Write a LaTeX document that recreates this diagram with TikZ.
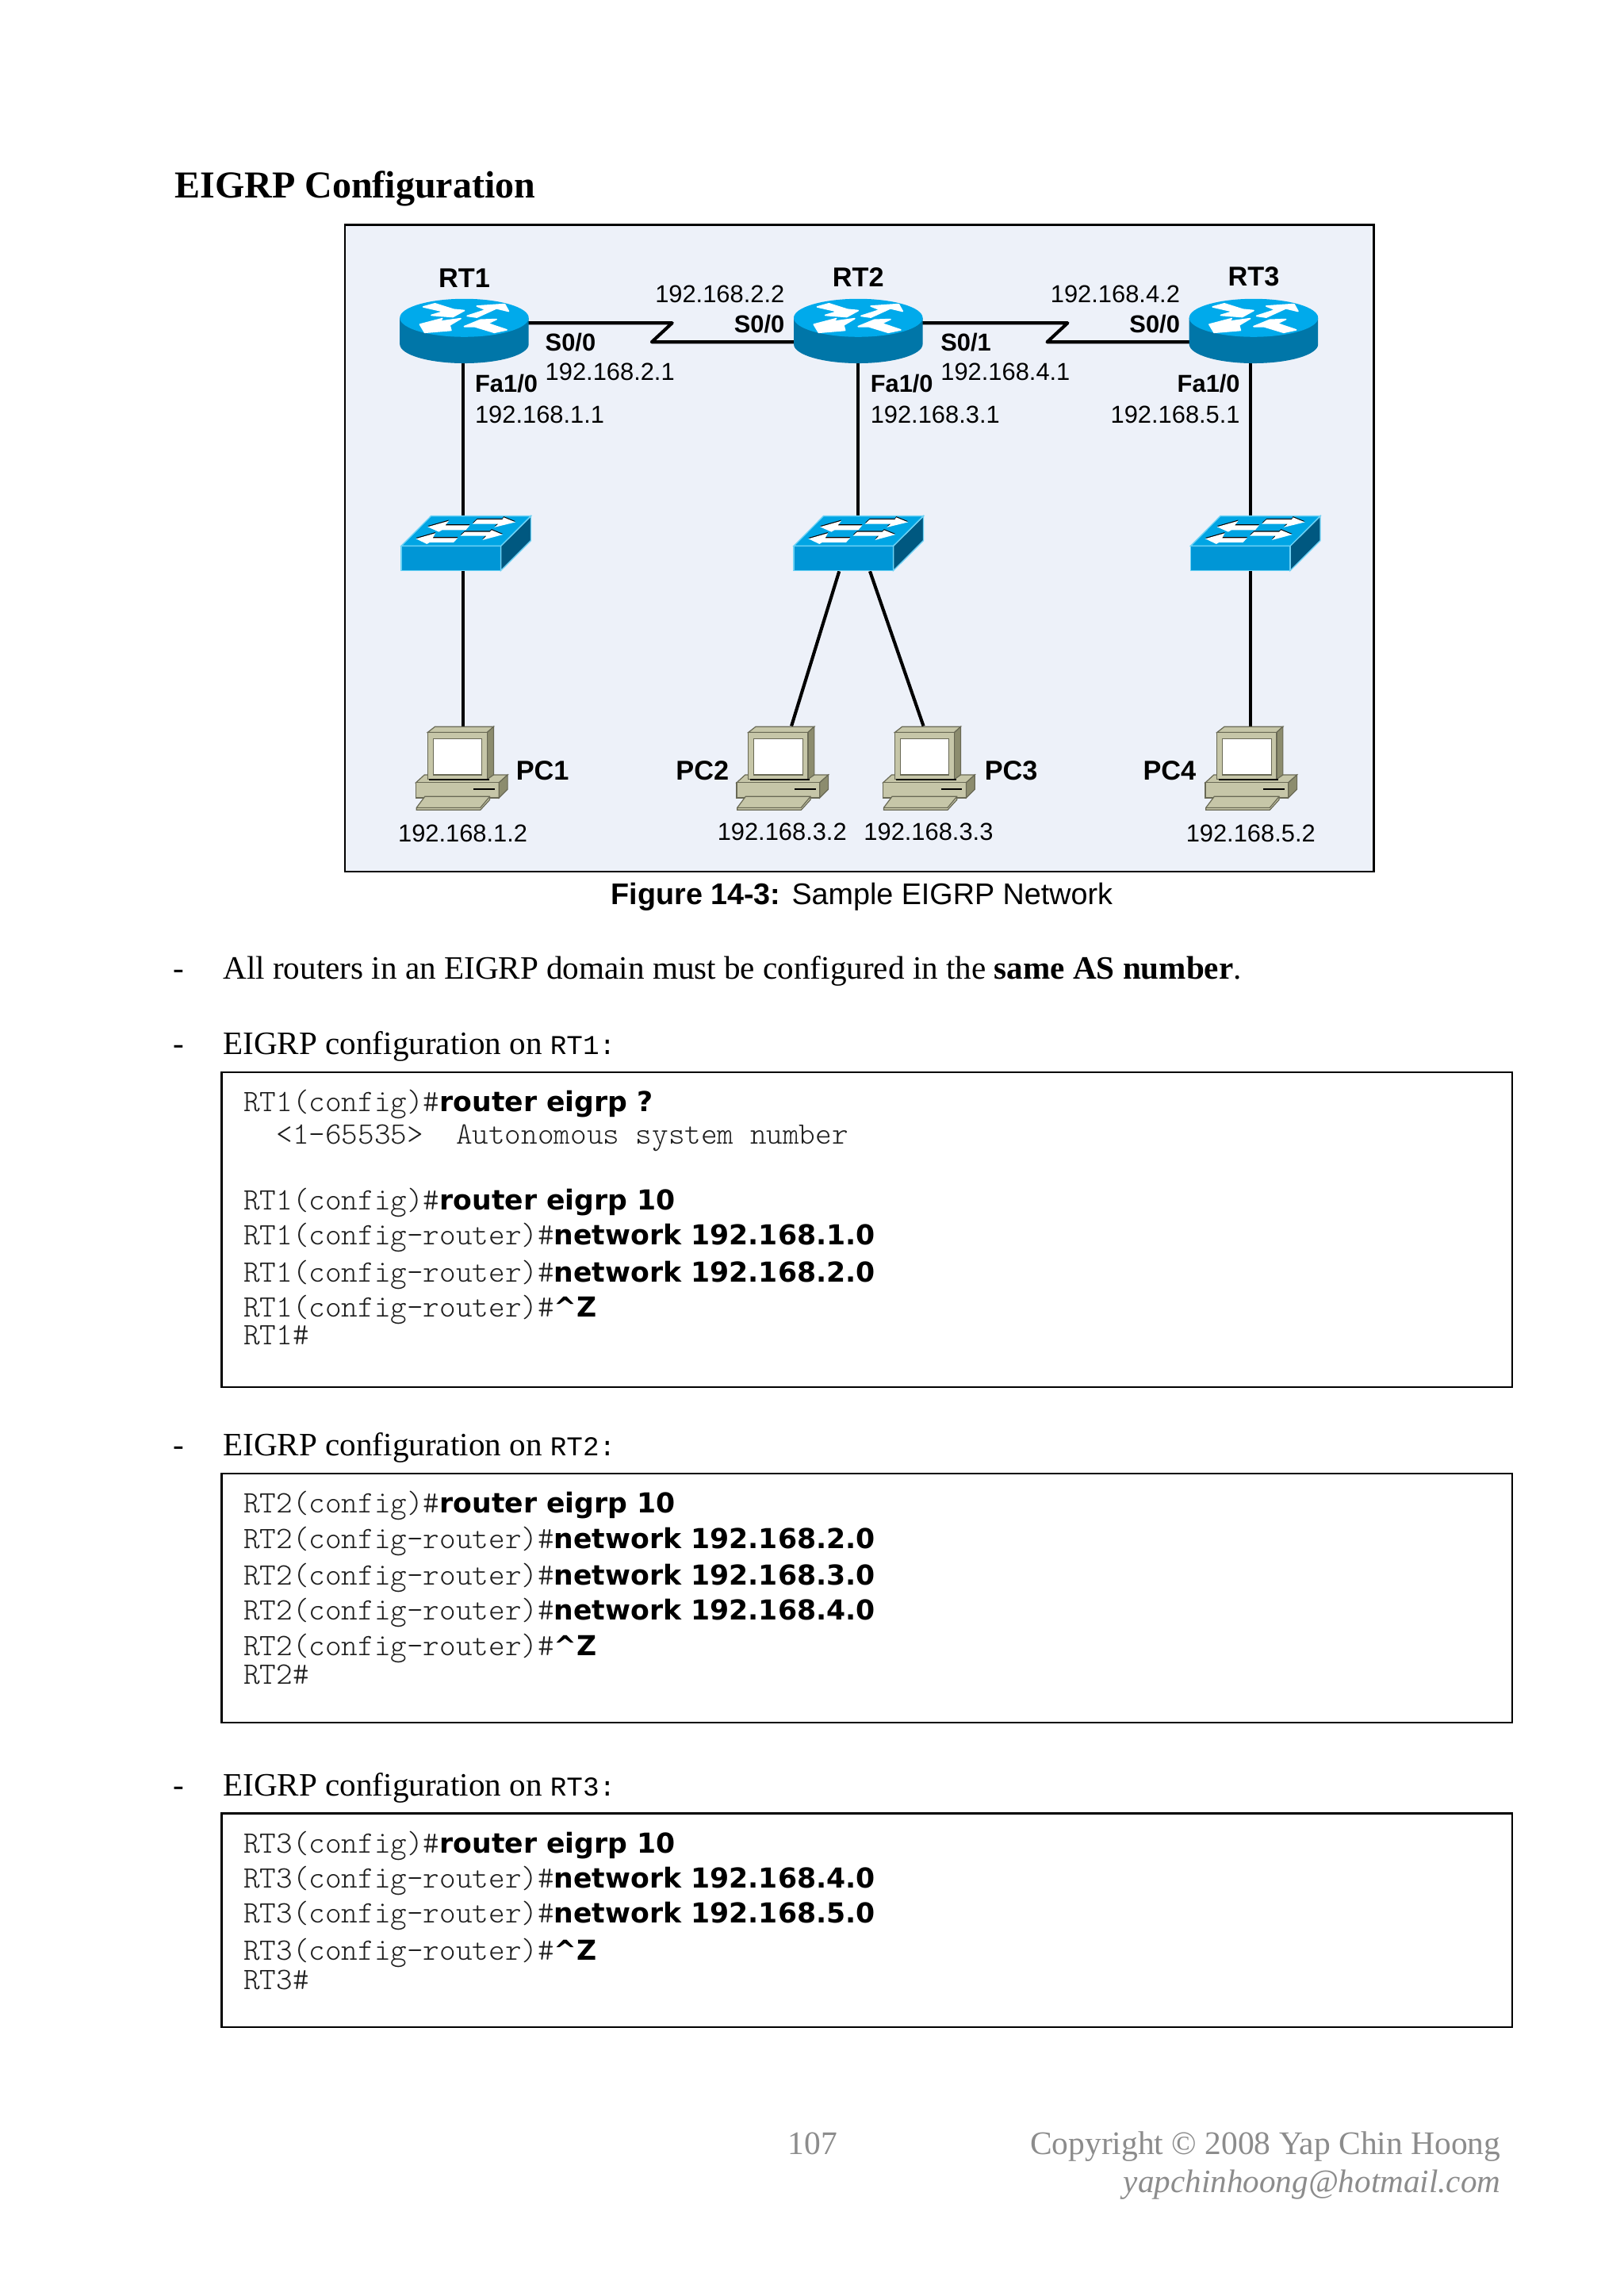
\documentclass[tikz,border=0pt]{standalone}
\usepackage{fontspec}
\setmainfont{Liberation Serif}
\setsansfont{Liberation Sans}
\setmonofont{Latin Modern Mono Light}
\newfontfamily\cmdbold{DejaVu Sans}[BoldFont={DejaVu Sans Bold}]
\newfontfamily\inlinemono{Liberation Mono}
\definecolor{panel}{RGB}{237,241,249}
\definecolor{rtop}{RGB}{0,170,235}
\definecolor{rside}{RGB}{0,118,168}
\definecolor{swtop}{RGB}{0,165,228}
\definecolor{swfront}{RGB}{0,150,214}
\definecolor{swside}{RGB}{0,88,128}
\definecolor{swedge}{RGB}{110,210,245}
\definecolor{pcface}{RGB}{198,198,168}
\definecolor{pcside}{RGB}{140,140,110}
\definecolor{pcline}{RGB}{105,105,85}
\definecolor{footgray}{RGB}{140,140,140}
\definecolor{monogray}{RGB}{30,30,30}
\tikzset{
  lab/.style={font=\sffamily\fontsize{9}{11}\selectfont,inner sep=0pt},
  blab/.style={font=\sffamily\bfseries\fontsize{9}{11}\selectfont,inner sep=0pt},
  nam/.style={font=\sffamily\bfseries\fontsize{10}{12}\selectfont,inner sep=0pt},
  body/.style={font=\rmfamily\fontsize{12}{14}\selectfont,inner sep=0pt,anchor=base west},
  cbox/.style={draw=black,line width=0.8pt},
  cfg/.style={font=\ttfamily\fontsize{11.45}{13}\selectfont,text=monogray,inner sep=0pt,anchor=base west},
  link/.style={line width=1.2pt,black},
  dev/.style={minimum width=1pt,minimum height=1pt,inner sep=0pt},
  foot/.style={font=\rmfamily\fontsize{12.1}{14}\selectfont,text=footgray,inner sep=0pt},
  arr/.style={fill=white,draw=none},
  rarr/.style={fill=white,draw=white,line width=0.5pt,line join=round},
  arrs/.style={fill=black,draw=none,yshift=0.35pt},
}
\newcommand{\bcmd}[1]{{\cmdbold\bfseries\fontsize{10.1}{12}\selectfont\color{black}#1}}
\newcommand{\rtname}[1]{{\inlinemono\fontsize{10}{12}\selectfont #1}}
% router icon, centre of the top disc at the origin
\newcommand{\routerpic}[1]{%
  \begin{scope}[shift={(#1)}]
    \fill[rside] (-44,0) -- (-44,18) arc[start angle=180,end angle=0,x radius=44,y radius=13] -- (44,0) -- cycle;
    \fill[rtop] (0,0) ellipse[x radius=44,y radius=13];
    \path[rarr] (-28,-7.5) -- (-20,-9.7) -- (-7.3,-5.7) -- (0,-5) -- (-7.8,-0.7) -- (-22.5,-1.8) -- (-14,-4.3) -- cycle;
    \path[rarr] (8.6,-8) -- (27.6,-9.3) -- (30.3,-4.5) -- (22,-6.5) -- (8.6,-0.4) -- (2,-1.3) -- (15,-5.5) -- cycle;
    \path[rarr] (-30.3,4.5) -- (-15,0.5) -- (-17,2.5) -- (-2.4,0.5) -- (-10,5) -- (-9,8.5) -- (-27,10) -- cycle;
    \path[rarr] (0,5.9) -- (11,1.4) -- (22,1) -- (16,3.8) -- (29,8.2) -- (20.5,10) -- (7.3,6) -- cycle;
  \end{scope}}
% switch icon
\newcommand{\swarrows}[1]{%
    \fill[#1] (-26,-10.3) -- (-11.5,-14.4) -- (-13.9,-11.4) -- (2.8,-11.4) -- (0,-8.1) -- (-16.2,-8.1) -- (-18.4,-6.9) -- cycle;
    \fill[#1] (34,-13.5) -- (25.9,-16.8) -- (25,-15.3) -- (7.8,-15.3) -- (4.6,-12.3) -- (22.2,-12.3) -- (19.5,-10) -- cycle;
    \fill[#1] (-34,-2.2) -- (-20.7,-6) -- (-22.5,-2.7) -- (-5.4,-2.7) -- (-8.4,0.35) -- (-24.7,0.35) -- (-26.5,1.4) -- cycle;
    \fill[#1] (25.3,-5) -- (17.7,-8.1) -- (16.5,-6.9) -- (-0.7,-6.9) -- (-3.6,-4.2) -- (14.1,-4.2) -- (11.4,-1.3) -- cycle;}
\newcommand{\switchpic}[1]{%
  \begin{scope}[shift={(#1)}]
    \fill[swfront,draw=swedge,line width=0.4pt] (-44,2.7) -- (24,2.7) -- (24,19.5) -- (-44,19.5) -- cycle;
    \fill[swside,draw=swedge,line width=0.4pt] (24,2.7) -- (44.5,-17.7) -- (44.5,-0.9) -- (24,19.5) -- cycle;
    \fill[swtop,draw=swedge,line width=0.4pt] (-44,2.7) -- (-23.7,-17.7) -- (44.5,-17.7) -- (24,2.7) -- cycle;
    \swarrows{arrs}
    \swarrows{arr}
  \end{scope}}
% pc icon, origin at the top left corner of the monitor front
\newcommand{\pcpic}[1]{%
  \begin{scope}[shift={(#1)},line width=0.35pt]
    \fill[pcface,draw=pcline] (-2.2,29) -- (54.6,29) -- (48.7,34.3) -- (-8,34.3) -- cycle;
    \fill[pcface,draw=pcline] (-8,34.3) -- (48.7,34.3) -- (48.7,44.7) -- (-8,44.7) -- cycle;
    \fill[pcside,draw=pcline] (48.7,34.3) -- (54.6,29) -- (54.6,38.8) -- (48.7,44.7) -- cycle;
    \fill[pcface,draw=pcline] (0,0) -- (5,-3.9) -- (45,-3.9) -- (40.7,0) -- cycle;
    \fill[pcside,draw=pcline] (40.7,0) -- (45,-3.9) -- (45,29) -- (40.7,32) -- cycle;
    \fill[pcface,draw=pcline] (0,0) -- (40.7,0) -- (40.7,32) -- (0,32) -- cycle;
    \fill[white,draw=pcline] (3.7,4.5) -- (37,4.5) -- (37,29) -- (3.7,29) -- cycle;
    \draw[black,line width=0.8pt] (1,32.3) -- (42,32.3);
    \draw[black,line width=0.45pt] (31.5,38.8) -- (46,38.8);
    \fill[pcface,draw=pcline] (-1.9,43.8) -- (42.4,43.8) -- (42.4,46) -- (36,53) -- (-7.6,53) -- (-7.6,51.4) -- cycle;
    \draw[pcline] (-7.6,51.4) -- (36,51.4) -- (42.4,43.8);
  \end{scope}}
\begin{document}
\begin{tikzpicture}[x=0.5387pt,y=-0.5387pt]
\useasboundingbox (0,0) rectangle (1108.8,1567.5);
\fill[white] (0,0) rectangle (1108.8,1567.5);

\node[inner sep=0pt,anchor=base west,font=\rmfamily\bfseries\fontsize{14}{16}\selectfont] (title) at (119,135) {EIGRP Configuration};

% diagram panel
\draw[fill=panel,draw=black,line width=0.8pt] (235.5,153.5) rectangle (938,595);

% device anchors
\node[dev] (r1) at (316,226) {};
\node[dev] (r2) at (586,226) {};
\node[dev] (r3) at (854,226) {};
\node[dev] (s1) at (316,371) {};
\node[dev] (s2) at (586,371) {};
\node[dev] (s3) at (854,371) {};
\node[dev] (p1) at (316,497) {};
\node[dev] (p2) at (540,497) {};
\node[dev] (p3) at (631,497) {};
\node[dev] (p4) at (854,497) {};
\coordinate (z1a) at (459,220.5);
\coordinate (z1b) at (445,233.5);
\coordinate (z2a) at (729,220.5);
\coordinate (z2b) at (715,233.5);
\coordinate (s2a) at (573,390);
\coordinate (s2b) at (594,390);

% connectors
\draw[link] (r1) -- (s1) -- (p1);
\draw[link] (r2) -- (s2);
\draw[link] (r3) -- (s3) -- (p4);
\draw[link] (s2a) -- (p2);
\draw[link] (s2b) -- (p3);
\draw[link,line join=round] (r1 |- z1a) -- (z1a) -- (z1b) -- (z1b -| r2);
\draw[link,line join=round] (r2 |- z2a) -- (z2a) -- (z2b) -- (z2b -| r3);

% icons
\routerpic{317,217}
\routerpic{586,217}
\routerpic{856,217}
\switchpic{318,370}
\switchpic{586,370}
\switchpic{857,370}
\pcpic{292,500}
\pcpic{511,500}
\pcpic{611,500}
\pcpic{831,500}

% names
\node[nam] (t1) at (317,190) {RT1};
\node[nam] (t2) at (586,189) {RT2};
\node[nam] (t3) at (856,189) {RT3};
\node[nam,anchor=west] (t4) at (352,526) {PC1};
\node[nam,anchor=east] (t5) at (498,526) {PC2};
\node[nam,anchor=west] (t6) at (672,526) {PC3};
\node[nam,anchor=east] (t7) at (817,526) {PC4};

% interface labels
\node[blab,anchor=west] (a1) at (372,233.5) {S0/0};
\node[lab,anchor=west] (a2) at (372,254) {192.168.2.1};
\node[lab,anchor=east] (a3) at (536,201) {192.168.2.2};
\node[blab,anchor=east] (a4) at (536,221) {S0/0};
\node[blab,anchor=west] (a5) at (324,262) {Fa1/0};
\node[lab,anchor=west] (a6) at (324,283) {192.168.1.1};
\node[blab,anchor=west] (a7) at (642,233.5) {S0/1};
\node[lab,anchor=west] (a8) at (642,254) {192.168.4.1};
\node[blab,anchor=west] (a9) at (594,262) {Fa1/0};
\node[lab,anchor=west] (a10) at (594,283) {192.168.3.1};
\node[lab,anchor=east] (a11) at (806,201) {192.168.4.2};
\node[blab,anchor=east] (a12) at (806,221) {S0/0};
\node[blab,anchor=east] (a13) at (847,262) {Fa1/0};
\node[lab,anchor=east] (a14) at (847,283) {192.168.5.1};
\node[lab] (a15) at (316,569) {192.168.1.2};
\node[lab] (a16) at (534,568) {192.168.3.2};
\node[lab] (a17) at (634,568) {192.168.3.3};
\node[lab] (a18) at (854,569) {192.168.5.2};

\node[inner sep=0pt,font=\sffamily\fontsize{11}{13}\selectfont] (cap) at (588.5,612.5) {\textbf{Figure 14-3:} Sample EIGRP Network};

% body text
\node[body] (d1) at (118,668.5) {-};
\node[body] (b1) at (152,668.5) {All routers in an EIGRP domain must be configured in the \textbf{same AS number}.};
\node[body] (d2) at (118,720) {-};
\node[body] (b2) at (152,720) {EIGRP configuration on \rtname{RT1:}};
\node[body] (d3) at (118,994) {-};
\node[body] (b3) at (152,994) {EIGRP configuration on \rtname{RT2:}};
\node[body] (d4) at (118,1226) {-};
\node[body] (b4) at (152,1226) {EIGRP configuration on \rtname{RT3:}};

% config boxes
\draw[cbox] (151.5,732) rectangle (1032.5,947);
\draw[cbox] (151.5,1006) rectangle (1032.5,1176);
\draw[cbox] (151.5,1238) rectangle (1032.5,1384);

\node[cfg] (c11) at (166,759) {RT1(config)\#\bcmd{router eigrp ?}};
\node[cfg] (c12) at (166,781) {\ \ <1-65535>\ \ Autonomous system number};
\node[cfg] (c13) at (166,826) {RT1(config)\#\bcmd{router eigrp 10}};
\node[cfg] (c14) at (166,850) {RT1(config-router)\#\bcmd{network 192.168.1.0}};
\node[cfg] (c15) at (166,875) {RT1(config-router)\#\bcmd{network 192.168.2.0}};
\node[cfg] (c16) at (166,899) {RT1(config-router)\#\bcmd{\textasciicircum Z}};
\node[cfg] (c17) at (166,918) {RT1\#};

\node[cfg] (c21) at (166,1033) {RT2(config)\#\bcmd{router eigrp 10}};
\node[cfg] (c22) at (166,1057) {RT2(config-router)\#\bcmd{network 192.168.2.0}};
\node[cfg] (c23) at (166,1082) {RT2(config-router)\#\bcmd{network 192.168.3.0}};
\node[cfg] (c24) at (166,1106) {RT2(config-router)\#\bcmd{network 192.168.4.0}};
\node[cfg] (c25) at (166,1130) {RT2(config-router)\#\bcmd{\textasciicircum Z}};
\node[cfg] (c26) at (166,1150) {RT2\#};

\node[cfg] (c31) at (166,1265) {RT3(config)\#\bcmd{router eigrp 10}};
\node[cfg] (c32) at (166,1289) {RT3(config-router)\#\bcmd{network 192.168.4.0}};
\node[cfg] (c33) at (166,1313) {RT3(config-router)\#\bcmd{network 192.168.5.0}};
\node[cfg] (c34) at (166,1338) {RT3(config-router)\#\bcmd{\textasciicircum Z}};
\node[cfg] (c35) at (166,1358) {RT3\#};

% footer
\node[foot,anchor=base] (f1) at (555,1471) {107};
\node[foot,anchor=base east] (f2) at (1025,1471) {Copyright © 2008 Yap Chin Hoong};
\node[foot,anchor=base east,font=\rmfamily\itshape\fontsize{12}{14}\selectfont] (f3) at (1025,1497) {yapchinhoong@hotmail.com};
\end{tikzpicture}
\end{document}
